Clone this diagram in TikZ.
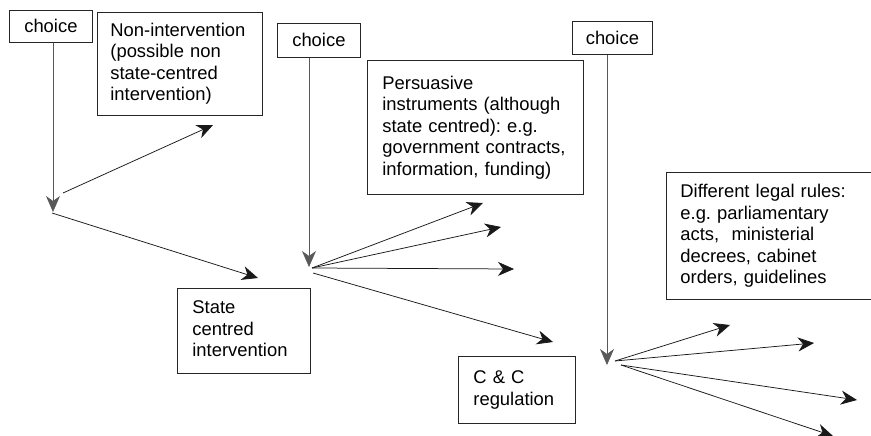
\documentclass[tikz,border=0pt]{standalone}
\usepackage{fontspec}
\setmainfont{Liberation Sans}
\usetikzlibrary{arrows.meta}
\frenchspacing
\begin{document}
\begin{tikzpicture}[x=1pt,y=-1pt,
  every node/.style={font=\fontsize{18.4}{21.5}\selectfont},
  box/.style={draw=black!85,line width=0.8pt,anchor=north west,inner sep=0pt,
    align=left},
  choicebox/.style={draw=black!85,line width=0.8pt,anchor=north west,inner sep=0pt,
    align=center},
  tip/.style={-{Stealth[length=16pt,width=14pt,inset=5pt]}},
  link/.style={draw=black!90,line width=0.75pt,tip},
  drop/.style={draw=black!65,line width=0.75pt,tip}]
\useasboundingbox (0,0) rectangle (871,436);

% choice boxes
\node[choicebox,minimum width=83pt,minimum height=32pt] (c1) at (9,10) {choice};
\node[choicebox,minimum width=83pt,minimum height=34pt] (c2) at (277,23) {choice};
\node[choicebox,minimum width=80pt,minimum height=33pt] (c3) at (572,21) {choice};

% outcome boxes
\node[box,minimum width=165pt,minimum height=103pt,text width=165pt] (non) at (97,12)
  {\hspace*{13pt}Non-intervention\\\hspace*{13pt}(possible non\\\hspace*{13pt}state-centred\\\hspace*{13pt}intervention)};
\node[box,minimum width=216pt,minimum height=134pt,text width=216pt] (pers) at (367,60)
  {\hspace*{15pt}Persuasive\\\hspace*{15pt}instruments (although\\\hspace*{15pt}state centred): e.g.\\\hspace*{15pt}government contracts,\\\hspace*{15pt}information, funding)};
\node[box,minimum width=205pt,minimum height=127pt,text width=205pt] (legal) at (666,172)
  {\hspace*{14pt}Different legal rules:\\\hspace*{14pt}e.g. parliamentary\\\hspace*{14pt}acts,~ ministerial\\\hspace*{14pt}decrees, cabinet\\\hspace*{14pt}orders, guidelines};
\node[box,minimum width=133pt,minimum height=85pt,text width=133pt] (state) at (177,288)
  {\hspace*{15pt}State\\\hspace*{15pt}centred\\\hspace*{15pt}intervention\rule[-4pt]{0pt}{0pt}};
\node[box,minimum width=117pt,minimum height=67pt,text width=117pt] (cc) at (458,356)
  {\hspace*{15pt}C \& C\\\hspace*{15pt}regulation};

% branching points and arrow ends
\coordinate (p1) at (53,212);
\coordinate (p1a) at (63,193);
\coordinate (p1b) at (52,213);
\coordinate (e1a) at (213,125);
\coordinate (e1b) at (258,278);

\coordinate (p2) at (309,267);
\coordinate (p2a) at (312,268);
\coordinate (p2b) at (313,273);
\coordinate (e2a) at (483,203);
\coordinate (e2b) at (501,227);
\coordinate (e2c) at (514,269);
\coordinate (e2d) at (553,342);

\coordinate (p3) at (607,365);
\coordinate (p3a) at (615,361);
\coordinate (p3b) at (621,365);
\coordinate (e3a) at (730,325);
\coordinate (e3b) at (814,343);
\coordinate (e3c) at (857,400);
\coordinate (e3d) at (833,436);

% first decision
\draw[drop] (c1.south -| p1) -- (p1);
\draw[link] (p1a) -- (e1a);
\draw[link] (p1b) -- (e1b);

% second decision
\draw[drop] (c2.south -| p2) -- (p2);
\draw[link] (p2a) -- (e2a);
\draw[link] (p2a) -- (e2b);
\draw[link] (p2a) -- (e2c);
\draw[link] (p2b) -- (e2d);

% third decision
\draw[drop] (c3.south -| p3) -- (p3);
\draw[link] (p3a) -- (e3a);
\draw[link] (p3a) -- (e3b);
\draw[link] (p3b) -- (e3c);
\draw[link] (p3b) -- (e3d);
\end{tikzpicture}
\end{document}
